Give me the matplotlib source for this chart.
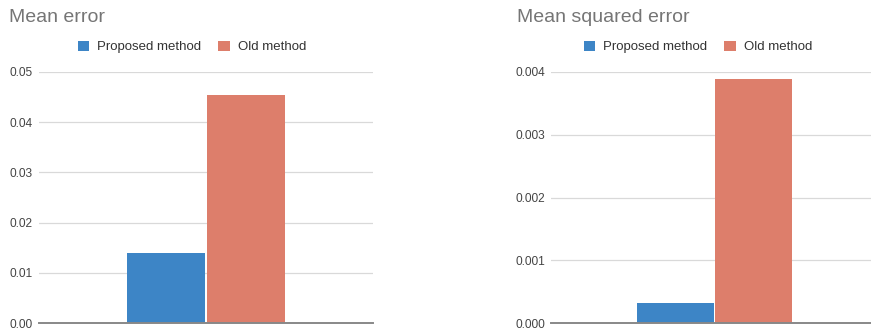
import matplotlib
matplotlib.use("Agg")
import matplotlib.pyplot as plt
from matplotlib.patches import Patch

plt.rcParams['font.family'] = ['Liberation Sans', 'DejaVu Sans']

series = ["Proposed method", "Old method"]
colors = ["#3d85c6", "#dd7e6b"]

mean_error = [0.0140, 0.0454]
mean_sq_error = [0.00032, 0.00389]

me_ticks = [0.00, 0.01, 0.02, 0.03, 0.04, 0.05]
me_labels = ["0.00", "0.01", "0.02", "0.03", "0.04", "0.05"]
mse_ticks = [0.000, 0.001, 0.002, 0.003, 0.004]
mse_labels = ["0.000", "0.001", "0.002", "0.003", "0.004"]

W, H = 871, 332
fig = plt.figure(figsize=(W / 100, H / 100), dpi=100)


def px_axes(x0, x1, ytop, ybot):
    return fig.add_axes([x0 / W, (H - ybot) / H, (x1 - x0) / W, (ybot - ytop) / H])


def draw(ax, values, ticks, labels, bar_w, title, title_x, legend_cx):
    for i, (v, c) in enumerate(zip(values, colors)):
        off = (i - 0.5) * bar_w
        ax.bar(off, v, width=bar_w * 0.985, color=c, zorder=3)
    ax.set_xlim(-0.5, 0.5)
    ax.set_ylim(ticks[0], ticks[-1])
    ax.set_yticks(ticks)
    ax.set_yticklabels(labels)
    ax.set_xticks([])
    ax.tick_params(axis='y', length=0, pad=4.3, labelsize=8.6, labelcolor="#444444")
    ax.grid(axis='y', color="#d9d9d9", linewidth=0.9, zorder=0)
    for s in ["top", "right", "left"]:
        ax.spines[s].set_visible(False)
    ax.spines["bottom"].set_color("#888888")
    ax.spines["bottom"].set_linewidth(1.4)
    ax.spines["bottom"].set_zorder(4)
    fig.text(title_x / W, 1 - 18 / H, title, fontsize=14, color="#757575",
             ha="left", va="center")
    handles = [Patch(facecolor=c, edgecolor="none") for c in colors]
    fig.legend(handles, series, loc="center", ncol=2,
               bbox_to_anchor=(legend_cx / W, 1 - 47 / H),
               frameon=False, fontsize=9.5, handlelength=0.85, handleheight=0.85,
               handletextpad=0.6, columnspacing=1.3,
               labelcolor="#333333")


ax1 = px_axes(39, 373, 72, 323)
draw(ax1, mean_error, me_ticks, me_labels, 80 / 334, "Mean error", 9, 192)

ax2 = px_axes(551, 878, 72, 323)
draw(ax2, mean_sq_error, mse_ticks, mse_labels, 78 / 327, "Mean squared error", 517, 698)

fig.savefig("out.png", dpi=100)
